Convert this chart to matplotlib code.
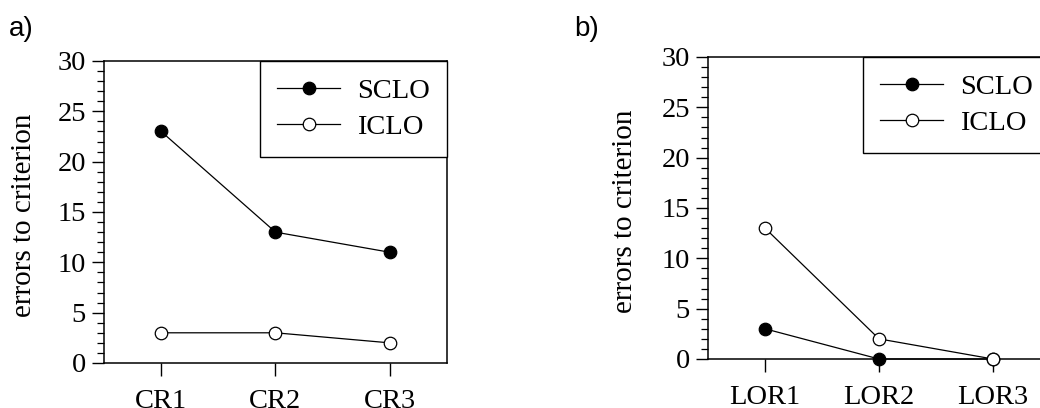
import numpy as np
import matplotlib
matplotlib.use('Agg')
import matplotlib.pyplot as plt
from matplotlib.ticker import MultipleLocator

# panel a
cr_labels = ['CR1', 'CR2', 'CR3']
cr_sclo = [23, 13, 11]
cr_iclo = [3, 3, 2]

# panel b
lor_labels = ['LOR1', 'LOR2', 'LOR3']
lor_sclo = [3, 0, 0]
lor_iclo = [13, 2, 0]

plt.rcParams['font.family'] = ['Liberation Serif', 'DejaVu Serif']
fs = 20.5

fig = plt.figure(figsize=(10.4, 4.08), dpi=100)
ax1 = fig.add_axes([0.100, 0.1103, 0.3298, 0.7402])
ax2 = fig.add_axes([0.6808, 0.1201, 0.3288, 0.7402])


def draw(ax, labels, sclo, iclo, xlab):
    x = np.arange(1, len(labels) + 1)
    ax.plot(x, sclo, color='black', lw=0.9, marker='o', ms=9,
            mfc='black', mec='black', mew=0.9, label='SCLO', clip_on=False, zorder=3)
    ax.plot(x, iclo, color='black', lw=0.9, marker='o', ms=9,
            mfc='white', mec='black', mew=0.9, label='ICLO', clip_on=False, zorder=4)
    ax.set_xlim(0.5, 3.5)
    ax.set_ylim(0, 30)
    ax.set_xticks(x)
    ax.set_xticklabels(labels)
    ax.yaxis.set_major_locator(MultipleLocator(5))
    ax.yaxis.set_minor_locator(MultipleLocator(1))
    ax.tick_params(axis='both', which='major', direction='out', length=9,
                   width=1.0, labelsize=fs, pad=4)
    ax.tick_params(axis='x', which='major', pad=10)
    ax.tick_params(axis='y', which='minor', direction='out', length=5, width=0.9)
    for s in ax.spines.values():
        s.set_linewidth(1.1)
    ax.set_ylabel('errors to criterion', fontsize=fs + 0.5)
    ax.yaxis.set_label_coords(xlab, 0.49)
    leg = ax.legend(loc='upper right', bbox_to_anchor=(1, 1), borderaxespad=0,
                    fontsize=fs, fancybox=False, framealpha=1, edgecolor='black',
                    handlelength=2.2, handletextpad=0.6, borderpad=0.6,
                    labelspacing=0.36)
    leg.get_frame().set_linewidth(1.0)


draw(ax1, cr_labels, cr_sclo, cr_iclo, -0.195)
draw(ax2, lor_labels, lor_sclo, lor_iclo, -0.205)

fig.text(0.009, 0.962, 'a)', family='Liberation Sans', fontsize=20, va='top')
fig.text(0.552, 0.962, 'b)', family='Liberation Sans', fontsize=20, va='top')

fig.savefig('out.png', dpi=100)
